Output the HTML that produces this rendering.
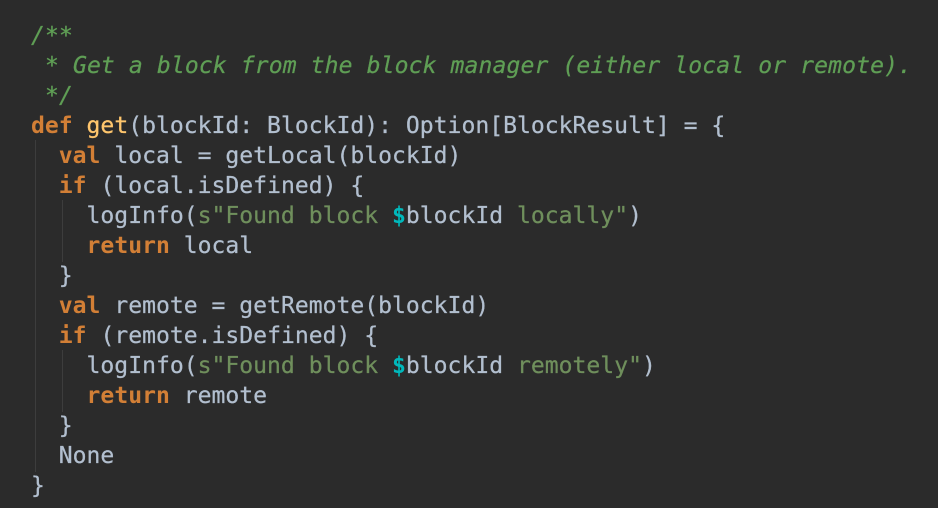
<!DOCTYPE html>
<html>
<head>
<meta charset="utf-8">
<style>
html,body{margin:0;padding:0;width:938px;height:508px;overflow:hidden;background:#2b2b2b;}
#c{position:absolute;left:0;top:0;width:938px;height:508px;background:#2b2b2b;}
.g{position:absolute;width:1px;background:#3d3d3d;}
pre{position:absolute;left:31px;top:22px;margin:0;font-family:"DejaVu Sans Mono","Liberation Mono",monospace;font-size:23.07px;line-height:29.97px;color:#b2bfcf;filter:blur(0.35px);-webkit-text-stroke:0.25px currentColor;}
.k{color:#d27f36;font-weight:bold;-webkit-text-stroke:0;}
.c{color:#5f9e55;font-style:italic;letter-spacing:0.1px;}
.f{color:#ffc66d;}
.s{color:#6f8f5c;}
.d{color:#00b8bb;font-weight:bold;-webkit-text-stroke:0;}
</style>
</head>
<body>
<div id="c">
<div class="g" style="left:35px;top:140px;height:332px;"></div>
<div class="g" style="left:62px;top:200px;height:62px;"></div>
<div class="g" style="left:62px;top:350px;height:62px;"></div>
<pre><span class="c">/**
 * Get a block from the block manager (either local or remote).
 */</span>
<span class="k">def</span> <span class="f">get</span>(blockId: BlockId): Option[BlockResult] = {
  <span class="k">val</span> local = getLocal(blockId)
  <span class="k">if</span> (local.isDefined) {
    logInfo(<span class="s">s"Found block </span><span class="d">$</span>blockId<span class="s"> locally"</span>)
    <span class="k">return</span> local
  }
  <span class="k">val</span> remote = getRemote(blockId)
  <span class="k">if</span> (remote.isDefined) {
    logInfo(<span class="s">s"Found block </span><span class="d">$</span>blockId<span class="s"> remotely"</span>)
    <span class="k">return</span> remote
  }
  None
}</pre>
</div>
</body>
</html>
